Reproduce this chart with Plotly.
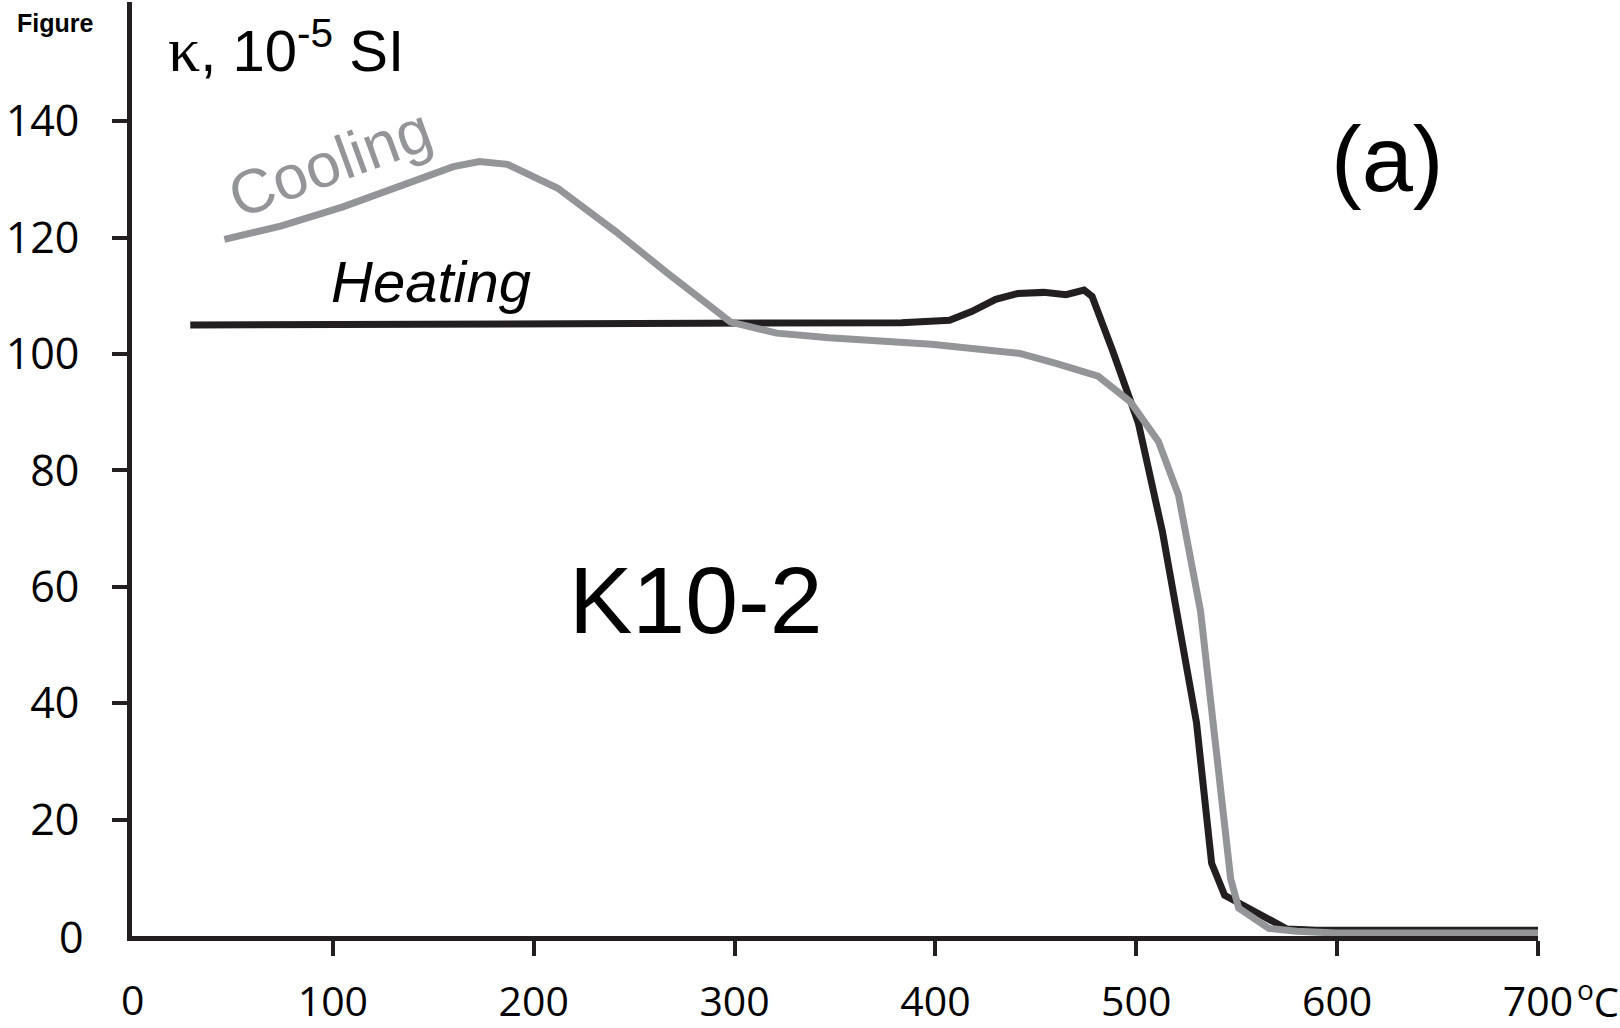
import plotly.graph_objects as go

# ---- data ----
heat_T = [29, 200, 383, 407, 418, 430, 441, 454, 465, 474, 478, 488, 497, 501, 513, 522, 530, 537.5, 544, 552, 565, 575, 590, 700]
heat_k = [105.0, 105.2, 105.4, 105.8, 107.3, 109.4, 110.4, 110.6, 110.2, 111.0, 109.9, 100.8, 91.8, 88.2, 69.5, 52.0, 36.6, 12.5, 7.0, 5.5, 3.0, 1.2, 1.0, 1.0]

cool_T = [46, 74, 105, 130, 160, 173, 187, 212, 241, 267, 298, 321, 347, 398, 442, 460, 481, 497, 511, 521, 532, 547, 551, 566, 580, 600, 700]
cool_k = [119.7, 122.0, 125.3, 128.3, 132.2, 133.1, 132.6, 128.5, 121.0, 113.8, 105.5, 103.6, 102.8, 101.7, 100.1, 98.4, 96.2, 91.8, 85.0, 75.8, 55.8, 9.8, 4.8, 1.3, 0.8, 0.5, 0.5]

x_ticks = [100, 200, 300, 400, 500, 600, 700]
x_ticklabels = ["100", "200", "300", "400", "500", "600", "700"]
y_ticks = [20, 40, 60, 80, 100, 120, 140]
y_ticklabels = ["20", "40", "60", "80", "100", "120", "140"]

BLACK = "#231f20"
GREY = "#939598"
XTICKFONT = dict(family="Open Sans", size=41, color="#000000")
YTICKFONT = dict(family="Open Sans", size=43, color="#000000")
UNITFONT = dict(family="Open Sans", size=40, color="#000000")
SANS = "Liberation Sans"

W, H = 1620, 1028
PL, PR, PT, PB = 132, 1538, 2, 936


def fx(px):
    return (px - PL) / (PR - PL)


def fy(py):
    return (PB - py) / (PB - PT)


fig = go.Figure()
fig.add_trace(go.Scatter(x=heat_T, y=heat_k, mode="lines", name="Heating",
                         line=dict(color=BLACK, width=7), cliponaxis=False))
fig.add_trace(go.Scatter(x=cool_T, y=cool_k, mode="lines", name="Cooling",
                         line=dict(color=GREY, width=7), cliponaxis=False))

annotations = [
    dict(text="<b>Figure</b>", x=fx(55), y=fy(23), font=dict(family=SANS, size=25, color="#000")),
    dict(text="<span style='font-family:Liberation Serif;font-size:64px'>κ</span>, 10<sup>-5</sup> SI",
         x=fx(166), y=fy(47), xanchor="left", font=dict(family=SANS, size=58, color="#000")),
    dict(text="Cooling", x=fx(330), y=fy(163), textangle=-20,
         font=dict(family=SANS, size=62, color=GREY)),
    dict(text="<i>Heating</i>", x=fx(431), y=fy(281),
         font=dict(family=SANS, size=58, color="#000")),
    dict(text="(a)", x=fx(1387), y=fy(159), font=dict(family=SANS, size=92, color="#000")),
    dict(text="K10-2", x=fx(696), y=fy(600), font=dict(family=SANS, size=95, color="#000")),
    dict(text="0", x=fx(86), y=fy(936), xanchor="right", font=YTICKFONT),
    dict(text="0", x=fx(132), y=fy(999), font=XTICKFONT, borderpad=0),
    dict(text="<sup>o</sup>C", x=fx(1576), y=fy(999), xanchor="left", font=UNITFONT, borderpad=0),
]
for a in annotations:
    a.setdefault("xref", "paper")
    a.setdefault("yref", "paper")
    a.setdefault("showarrow", False)
    a.setdefault("xanchor", "center")
    a.setdefault("yanchor", "middle")

fig.update_layout(
    width=W, height=H,
    margin=dict(l=PL, r=W - PR, t=PT, b=H - PB, pad=0, autoexpand=False),
    paper_bgcolor="white", plot_bgcolor="white",
    showlegend=False,
    annotations=annotations,
    xaxis=dict(range=[0, 700], showgrid=False, zeroline=False, automargin=False,
               showline=True, linecolor=BLACK, linewidth=5,
               ticks="outside", ticklen=15, tickwidth=4, tickcolor=BLACK,
               tickvals=x_ticks, ticktext=x_ticklabels, tickfont=XTICKFONT,
               ticklabelstandoff=11),
    yaxis=dict(range=[0, 160.5], showgrid=False, zeroline=False, automargin=False,
               showline=True, linecolor=BLACK, linewidth=5,
               ticks="outside", ticklen=15, tickwidth=4, tickcolor=BLACK,
               tickvals=y_ticks, ticktext=y_ticklabels, tickfont=YTICKFONT,
               ticklabelstandoff=24),
)

fig.write_html("out.html")
